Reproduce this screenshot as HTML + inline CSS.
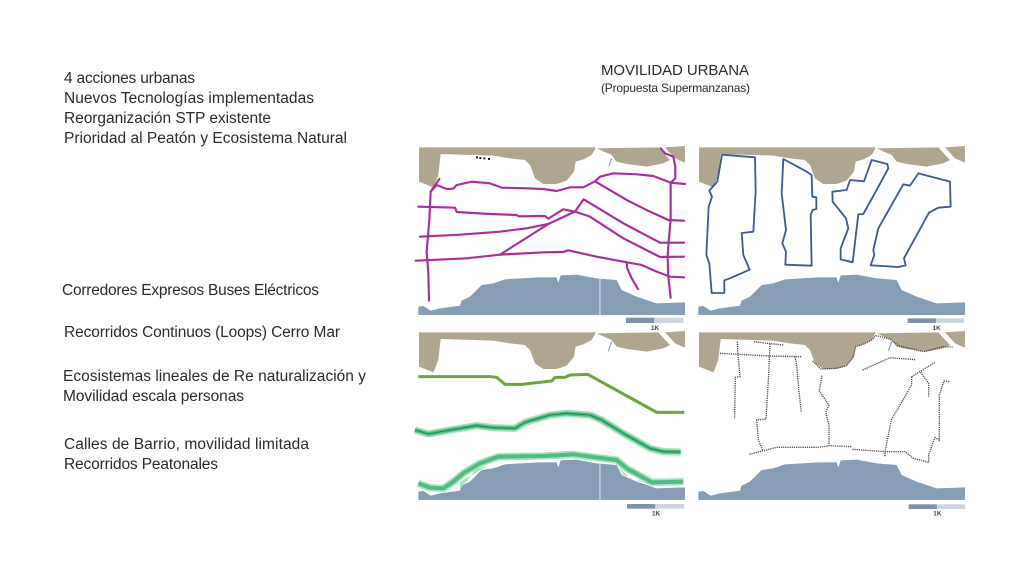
<!DOCTYPE html>
<html lang="es">
<head>
<meta charset="utf-8">
<title>Movilidad Urbana</title>
<style>
html,body{margin:0;padding:0;background:#fff;width:1024px;height:576px;overflow:hidden}
svg{display:block}
text{font-family:"Liberation Sans",sans-serif;fill:#2b2b2b}
.t{font-size:15.5px}
.k{font-size:19px;font-weight:bold;fill:#444}
.p{filter:blur(0.3px)}
.mag{fill:none;stroke:#a92f9b;stroke-width:6.5;stroke-linejoin:round;stroke-linecap:round}
.nav{fill:none;stroke:#3d5c92;stroke-width:5.5;stroke-linejoin:round}
.dot{fill:none;stroke:#444;stroke-width:4;stroke-dasharray:3.5 3}
.gb{fill:none;stroke:#a5e5c0;stroke-width:22;stroke-linejoin:round}
.gm{fill:none;stroke:#4dbd83;stroke-width:12;stroke-linejoin:round}
.gd{fill:none;stroke:#1f7a50;stroke-width:2.5;stroke-linejoin:round}
</style>
</head>
<body>
<svg width="1024" height="576" viewBox="0 0 1024 576" xmlns="http://www.w3.org/2000/svg">
<defs>
<g id="land">
<path fill="#b0a690" d="M27,22 L558,22 L545,45 L520,58 L497,65 L492,95 L470,122 L440,132 L400,132 L375,115 L360,75 L345,60 L300,55 L250,47 L92,42 L85,105 L70,142 L27,125 Z"/>
<path fill="#b0a690" d="M560,25 L745,22 L780,60 L760,70 L710,80 L650,72 L620,65 L605,45 Z"/>
<path fill="#b0a690" d="M765,22 L825,18 L825,68 L795,55 Z"/>
<path fill="#869db6" d="M25,500 L40,498 L62,512 L90,505 L150,497 L155,482 L180,470 L215,435 L250,430 L285,418 L385,412 L440,412 L445,428 L452,406 L500,404 L560,415 L620,420 L635,450 L680,470 L740,490 L825,487 L825,525 L25,525 Z"/>
</g>
</defs>

<text class="t" x="64" y="83" textLength="131">4 acciones urbanas</text>
<text class="t" x="64" y="103" textLength="250">Nuevos Tecnologías implementadas</text>
<text class="t" x="64" y="123" textLength="207">Reorganización STP existente</text>
<text class="t" x="64" y="143" textLength="283">Prioridad al Peatón y Ecosistema Natural</text>
<text class="t" x="62" y="295" textLength="257">Corredores Expresos Buses Eléctricos</text>
<text class="t" x="64" y="337" textLength="276">Recorridos Continuos (Loops) Cerro Mar</text>
<text class="t" x="63" y="381" textLength="303">Ecosistemas lineales de Re naturalización y</text>
<text class="t" x="63" y="401" textLength="181">Movilidad escala personas</text>
<text class="t" x="64" y="449" textLength="245">Calles de Barrio, movilidad limitada</text>
<text class="t" x="64" y="469" textLength="154">Recorridos Peatonales</text>
<text x="601" y="75" font-size="15" textLength="148">MOVILIDAD URBANA</text>
<text x="601" y="92" font-size="12" textLength="149">(Propuesta Supermanzanas)</text>

<!-- Panel 1 -->
<g class="p" transform="translate(410,140) scale(0.3333)">
<use href="#land"/>
<path d="M570,415V525" stroke="#dfe5ec" stroke-width="3"/>
<path d="M605,55L597,78" stroke="#7f9ab8" stroke-width="3"/>
<path d="M198,52h6M208,54h6M220,55h6M234,57h6" stroke="#222" stroke-width="6"/>
<g class="mag">
<path d="M88,117L62,155L58,240L50,335L55,400L57,482"/>
<path d="M62,155L80,135L110,147L130,146L140,135L185,125L240,130L275,143L350,145L400,147L440,153L480,142L520,142L555,124L570,110L610,100L680,103L730,108L782,128L825,132"/>
<path d="M752,25L765,40L790,50L796,80L796,115L782,128L782,240L776,305L773,350L775,410L782,473"/>
<path d="M25,200L135,203L140,216L240,222L320,225L325,229L405,228L415,236L460,208L495,215L540,230L640,295L750,351L822,350"/>
<path d="M30,290L150,284L270,275L350,265L415,252L495,215L521,178L640,250L750,308L822,308"/>
<path d="M17,362L170,355L270,344L400,337L460,336L475,331L560,350L640,365L695,375L740,395L780,410L822,412"/>
<path d="M270,344L415,252"/>
<path d="M555,124L650,180L720,215L775,240L822,242"/>
<path d="M650,367L652,385L665,415L684,447"/>
</g>
<rect x="648" y="533" width="85" height="16" fill="#7f93aa"/>
<rect x="733" y="533" width="87" height="16" fill="#cdd5de"/>
<text class="k" x="723" y="570">1K</text>
</g>

<!-- Panel 2 -->
<g class="p" transform="translate(690,140) scale(0.3333)">
<use href="#land"/>
<g class="nav">
<path d="M96,44L195,52L197,155L190,275L155,279L160,345L179,389L120,415L103,421L103,459L65,459L58,370L49,345L56,200L66,170L58,152L82,125Z"/>
<path d="M280,57L345,92L365,105L367,170L379,172L379,207L368,210L362,225L365,377L286,374L288,335L277,310L288,270L275,160Z"/>
<path d="M545,60L592,72L595,85L560,150L520,222L505,223L488,367L452,358L452,325L475,265L468,235L428,185L427,155L470,150L480,120L522,124Z"/>
<path d="M685,100L780,125L782,200L745,203L717,218L642,355L647,376L625,381L542,376L553,345L550,330L565,265L640,133L660,137Z"/>
</g>
<rect x="653" y="535" width="85" height="14" fill="#7f93aa"/>
<rect x="738" y="535" width="85" height="14" fill="#cdd5de"/>
<text class="k" x="728" y="570">1K</text>
</g>

<!-- Panel 3 -->
<g class="p" transform="translate(410,325) scale(0.3333)">
<use href="#land"/>
<path d="M570,415V525" stroke="#dfe5ec" stroke-width="3"/>
<path d="M605,50L595,78" stroke="#7f9ab8" stroke-width="3"/>
<path d="M150,492L200,430L230,425L150,470Z M625,425L660,460L725,475L690,470L640,450Z" fill="#a5e3bf"/>
<path d="M25,155H240L260,157L285,178H335L425,168L435,157H465L480,150L533,148L740,262H823" fill="none" stroke="#6ba53b" stroke-width="9" stroke-linejoin="round"/>
<path class="gb" d="M15,315L55,327L120,315L200,302L250,308L315,310L345,292L420,270L470,265L540,270L575,285L640,325L720,370L760,380L812,381"/>
<path class="gm" d="M15,315L55,327L120,315L200,302L250,308L315,310L345,292L420,270L470,265L540,270L575,285L640,325L720,370L760,380L812,381"/>
<path class="gd" d="M15,315L55,327L120,315L200,302L250,308L315,310L345,292L420,270L470,265L540,270L575,285L640,325L720,370L760,380L812,381"/>
<path class="gb" d="M25,475L60,488L100,490L130,470L160,445L210,415L265,395L400,393L490,388L540,395L620,405L650,430L725,472L820,470"/>
<path class="gm" d="M25,475L60,488L100,490L130,470L160,445L210,415L265,395L400,393L490,388L540,395L620,405L650,430L725,472L820,470"/>
<rect x="651" y="537" width="85" height="14" fill="#7f93aa"/>
<rect x="736" y="537" width="87" height="14" fill="#cdd5de"/>
<text class="k" x="726" y="572">1K</text>
</g>

<!-- Panel 4 -->
<g class="p" transform="translate(690,325) scale(0.3333)">
<use href="#land"/>
<path d="M605,50L595,78" stroke="#7f9ab8" stroke-width="3"/>
<g class="dot">
<path d="M142,50L144,90L150,155L136,157L134,280"/>
<path d="M192,50L240,56L282,60"/>
<path d="M90,85L240,93L335,95"/>
<path d="M240,56L236,150L228,282L200,285L205,345L218,375"/>
<path d="M315,95L320,120L326,190L334,262"/>
<path d="M396,152L388,198L417,240L407,262L417,300L417,362"/>
<path d="M178,388L260,367L385,367L417,362L485,365"/>
<path d="M487,373L585,380L645,380L670,400L716,412"/>
<path d="M665,155L665,180L604,285L585,380L585,395"/>
<path d="M665,155L735,112"/>
<path d="M692,142L716,175L716,215"/>
<path d="M778,170L762,168L748,210L748,345L735,338L716,390L716,412"/>
<path d="M518,135L600,98L676,104"/>
<path d="M368,108L392,132L440,130L470,122L490,95L497,65L520,58L545,45L558,32L600,42L625,62L700,80L760,65L788,66"/>
</g>
<rect x="656" y="538" width="85" height="14" fill="#7f93aa"/>
<rect x="741" y="538" width="85" height="14" fill="#cdd5de"/>
<text class="k" x="730" y="572">1K</text>
</g>
</svg>
</body>
</html>
